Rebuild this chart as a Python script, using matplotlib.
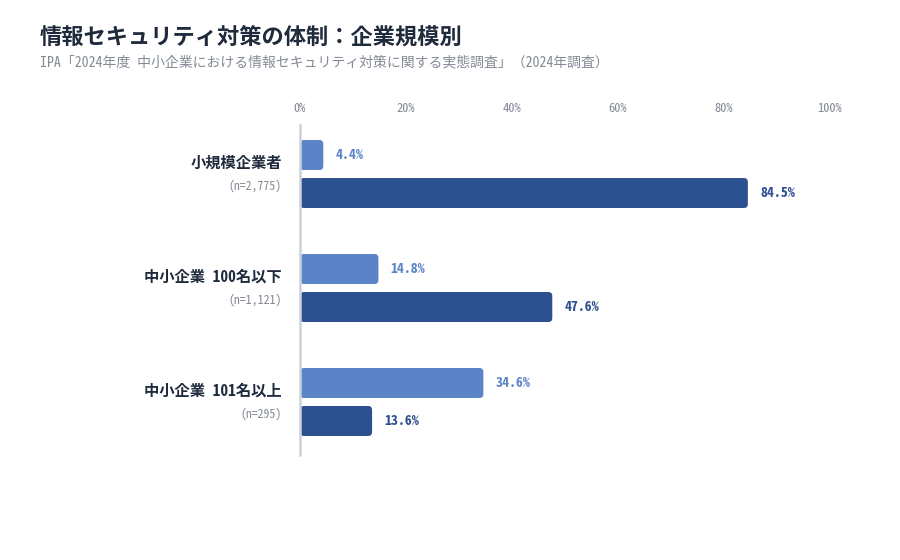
import matplotlib
matplotlib.use('Agg')
from matplotlib import pyplot as plt
from matplotlib.patches import FancyBboxPatch

plt.rcParams['font.family'] = ['Noto Sans Mono CJK JP', 'Noto Sans CJK JP', 'DejaVu Sans']

# データ
categories = ['小規模企業者', '中小企業 100名以下', '中小企業 101名以上']
sample_sizes = ['(n=2,775)', '(n=1,121)', '(n=295)']
series_a = [4.4, 14.8, 34.6]     # 明るい青
series_b = [84.5, 47.6, 13.6]    # 濃い青
ticks = [0, 20, 40, 60, 80, 100]

light = '#5b84c8'
dark = '#2d5090'
title_color = '#1f2a3c'
gray = '#858b95'

fig = plt.figure(figsize=(9, 5.6), dpi=100)
ax = fig.add_axes([300 / 900, 1 - 455 / 560, 530 / 900, 330 / 560])

bar_h = 30 / 114
offset = 19 / 114
ax.set_xlim(0, 100)
ax.set_ylim(2.465, -0.43)


def rounded_bar(y, w, color):
    # 角丸の棒
    p = FancyBboxPatch((0, y - bar_h / 2), w, bar_h,
                       boxstyle='round,pad=0,rounding_size=0.75',
                       mutation_aspect=0.0464,
                       facecolor=color, edgecolor='none', zorder=3)
    ax.add_patch(p)


for i in range(len(categories)):
    ya = i - offset
    yb = i + offset
    rounded_bar(ya, series_a[i], light)
    rounded_bar(yb, series_b[i], dark)
    ax.text(series_a[i] + 2.3, ya, f'{series_a[i]:.1f}%', color=light,
            fontsize=10, fontweight='bold', va='center', ha='left')
    ax.text(series_b[i] + 2.3, yb, f'{series_b[i]:.1f}%', color=dark,
            fontsize=10, fontweight='bold', va='center', ha='left')
    ax.text(-3.4, i - 11 / 114, categories[i], color=title_color,
            fontsize=11, fontweight='bold', ha='right', va='center')
    ax.text(-3.4, i + 12 / 114, sample_sizes[i], color=gray,
            fontsize=8.5, ha='right', va='center')

ax.xaxis.tick_top()
ax.set_xticks(ticks)
ax.set_xticklabels([f'{t}%' for t in ticks])
ax.tick_params(axis='x', length=0, pad=7, labelsize=9, labelcolor=gray)
ax.set_yticks([])
for s in ['top', 'right', 'bottom']:
    ax.spines[s].set_visible(False)
ax.spines['left'].set_color('#ccd1d9')
ax.spines['left'].set_linewidth(1.8)
ax.spines['left'].set_zorder(4)

fig.text(40 / 900, 1 - 37 / 560, '情報セキュリティ対策の体制：企業規模別',
         fontsize=16, fontweight='bold', color=title_color, va='center')
fig.text(40 / 900, 1 - 62 / 560,
         'IPA「2024年度 中小企業における情報セキュリティ対策に関する実態調査」（2024年調査）',
         fontsize=10, color=gray, va='center')

fig.savefig('out.png', dpi=100)
